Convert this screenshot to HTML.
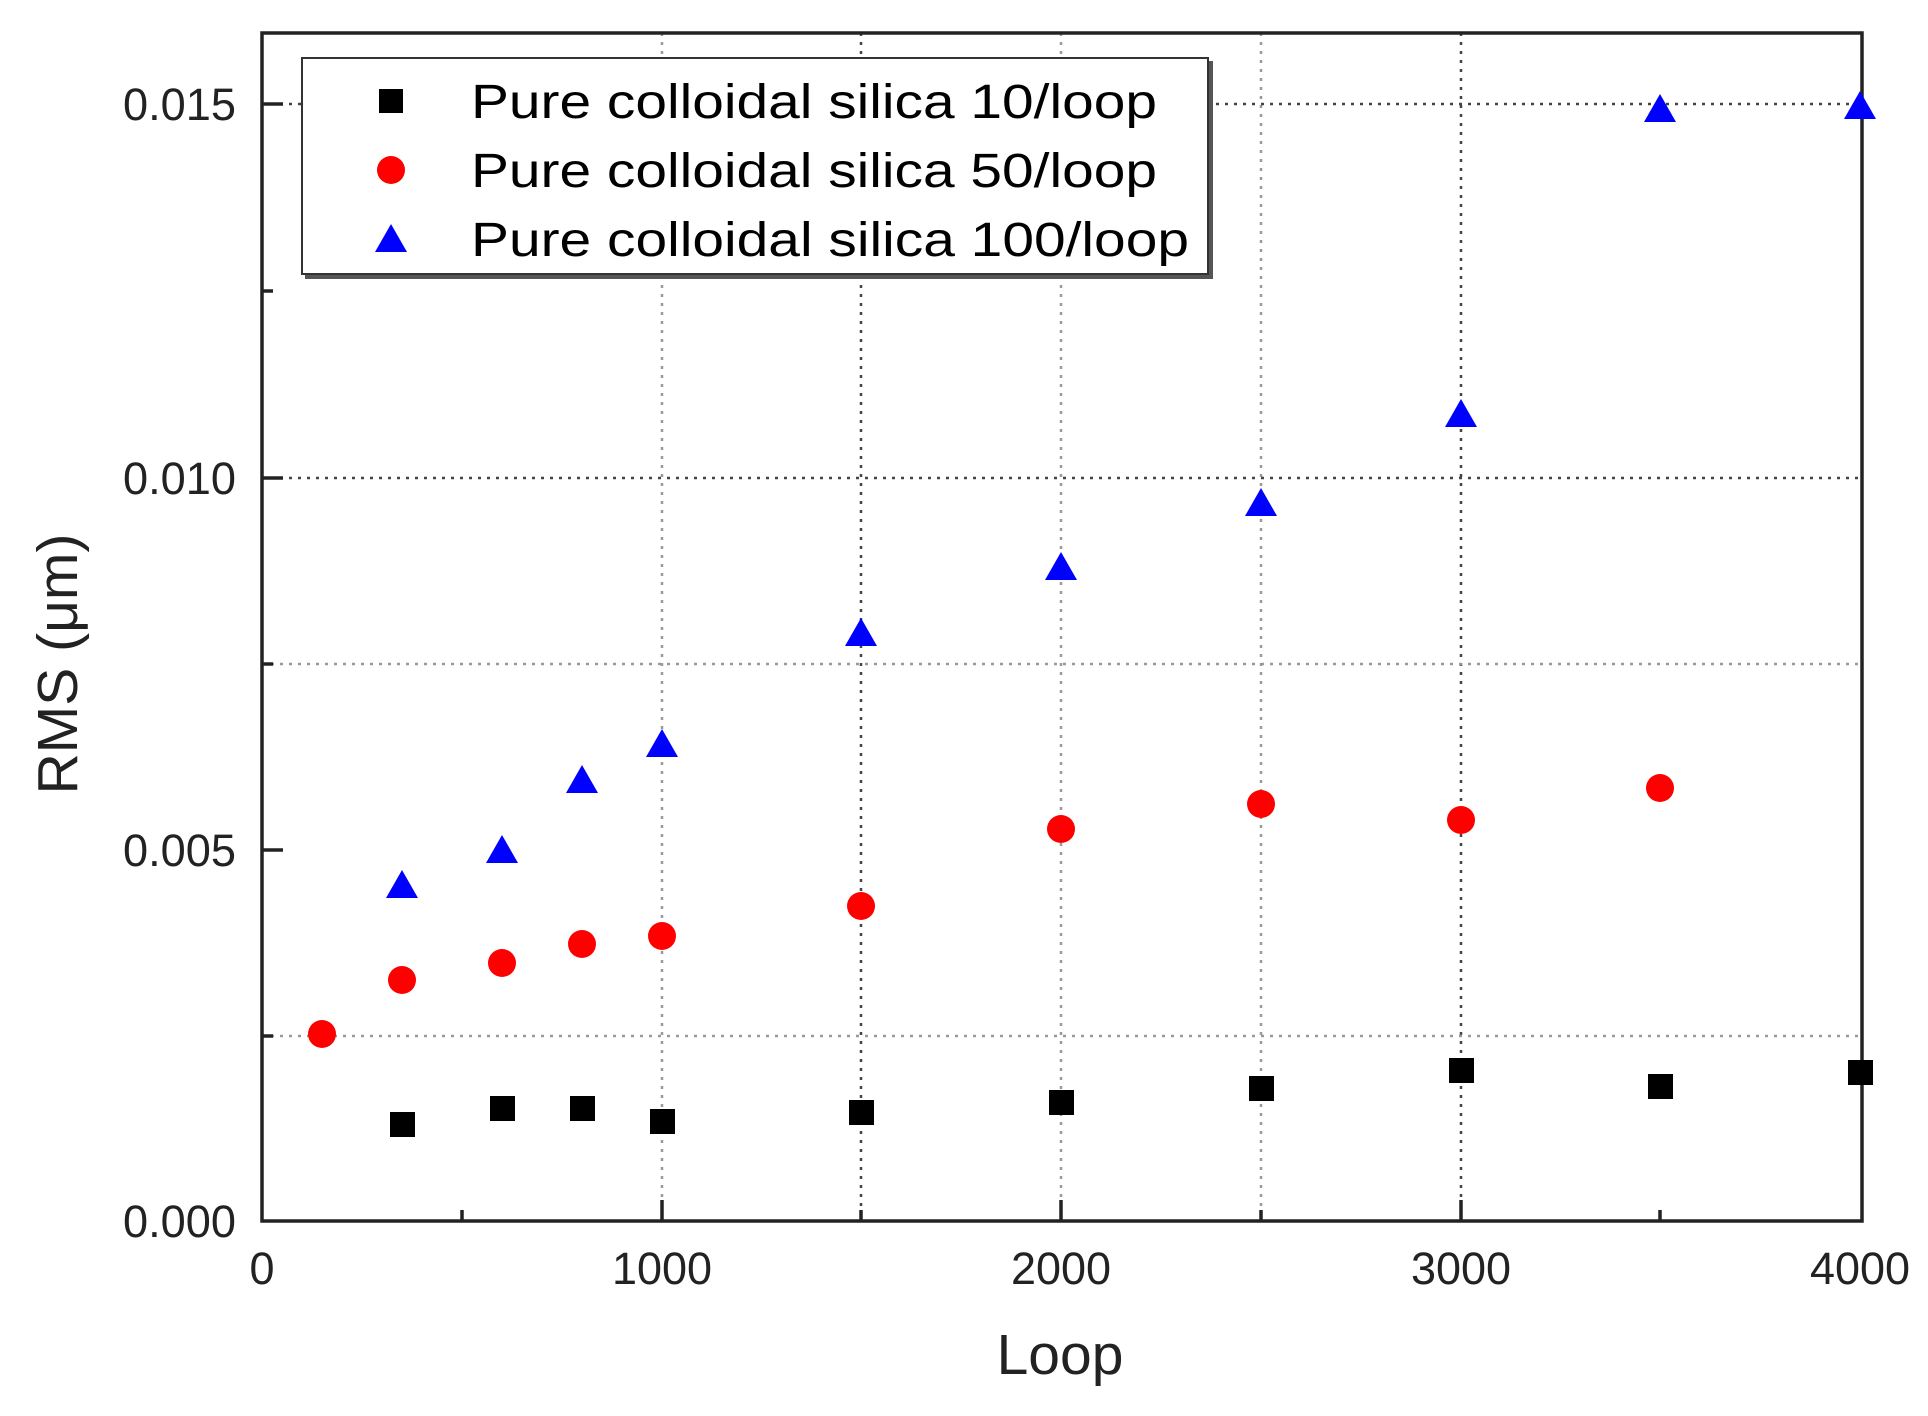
<!DOCTYPE html>
<html><head><meta charset="utf-8"><style>html,body{margin:0;padding:0;background:#fff}svg{display:block}</style></head>
<body>
<svg width="1928" height="1416" viewBox="0 0 1928 1416" xmlns="http://www.w3.org/2000/svg" font-family="Liberation Sans, Arial, sans-serif">
<rect width="1928" height="1416" fill="#fff"/>
<!-- grid -->
<g stroke-width="2.5" stroke-dasharray="3,6" fill="none">
<line x1="662" y1="33" x2="662" y2="1221" stroke="#999"/>
<line x1="861" y1="33" x2="861" y2="1221" stroke="#444"/>
<line x1="1061" y1="33" x2="1061" y2="1221" stroke="#999"/>
<line x1="1261" y1="33" x2="1261" y2="1221" stroke="#999"/>
<line x1="1461" y1="33" x2="1461" y2="1221" stroke="#444"/>
<line x1="262" y1="104" x2="1862" y2="104" stroke="#444"/>
<line x1="262" y1="478" x2="1862" y2="478" stroke="#444"/>
<line x1="262" y1="664" x2="1862" y2="664" stroke="#999"/>
<line x1="262" y1="1036" x2="1862" y2="1036" stroke="#999"/>
</g>
<!-- axes frame -->
<rect x="262" y="33" width="1600" height="1188" fill="none" stroke="#222" stroke-width="3.5"/>
<g stroke="#222" stroke-width="3.5">
<line x1="662" y1="1221" x2="662" y2="1200"/><line x1="1061" y1="1221" x2="1061" y2="1200"/><line x1="1461" y1="1221" x2="1461" y2="1200"/>
<line x1="462" y1="1221" x2="462" y2="1210"/><line x1="861" y1="1221" x2="861" y2="1210"/><line x1="1261" y1="1221" x2="1261" y2="1210"/><line x1="1660" y1="1221" x2="1660" y2="1210"/>
<line x1="262" y1="104" x2="283" y2="104"/><line x1="262" y1="478" x2="283" y2="478"/><line x1="262" y1="850" x2="283" y2="850"/>
<line x1="262" y1="291" x2="273" y2="291"/><line x1="262" y1="664" x2="273" y2="664"/><line x1="262" y1="1036" x2="273" y2="1036"/>
</g>
<!-- tick labels -->
<g font-size="45" fill="#222">
<text x="123" y="120" textLength="113" lengthAdjust="spacingAndGlyphs">0.015</text>
<text x="123" y="494" textLength="113" lengthAdjust="spacingAndGlyphs">0.010</text>
<text x="123" y="866" textLength="113" lengthAdjust="spacingAndGlyphs">0.005</text>
<text x="123" y="1237" textLength="113" lengthAdjust="spacingAndGlyphs">0.000</text>
</g>
<g font-size="45" fill="#222" text-anchor="middle">
<text x="262" y="1284">0</text>
<text x="662" y="1284">1000</text>
<text x="1061" y="1284">2000</text>
<text x="1461" y="1284">3000</text>
<text x="1860" y="1284">4000</text>
</g>
<text x="1060" y="1374" font-size="57" fill="#222" text-anchor="middle">Loop</text>
<text transform="translate(77,664) rotate(-90)" font-size="57" fill="#222" text-anchor="middle">RMS (μm)</text>
<!-- data squares -->
<g fill="#000">
<rect x="390" y="1112" width="25" height="25"/>
<rect x="490" y="1096" width="25" height="25"/>
<rect x="570" y="1096" width="25" height="25"/>
<rect x="650" y="1109" width="25" height="25"/>
<rect x="849" y="1100" width="25" height="25"/>
<rect x="1049" y="1090" width="25" height="25"/>
<rect x="1249" y="1076" width="25" height="25"/>
<rect x="1449" y="1058" width="25" height="25"/>
<rect x="1648" y="1074" width="25" height="25"/>
<rect x="1848" y="1060" width="25" height="25"/>
</g>
<g fill="#f00">
<circle cx="322" cy="1034" r="14"/><circle cx="402" cy="980" r="14"/><circle cx="502" cy="963" r="14"/>
<circle cx="582" cy="944" r="14"/><circle cx="662" cy="936" r="14"/><circle cx="861" cy="906" r="14"/>
<circle cx="1061" cy="829" r="14"/><circle cx="1261" cy="804" r="14"/><circle cx="1461" cy="820" r="14"/>
<circle cx="1660" cy="788" r="14"/>
</g>
<g fill="#00f">
<polygon points="402,870 386,898 418,898"/>
<polygon points="502,835 486,863 518,863"/>
<polygon points="582,765 566,793 598,793"/>
<polygon points="662,729 646,757 678,757"/>
<polygon points="861,618 845,646 877,646"/>
<polygon points="1061,552 1045,580 1077,580"/>
<polygon points="1261,488 1245,516 1277,516"/>
<polygon points="1461,399 1445,427 1477,427"/>
<polygon points="1660,94 1644,122 1676,122"/>
<polygon points="1860,91 1844,119 1876,119"/>
</g>
<!-- legend -->
<rect x="305" y="61" width="908" height="218" fill="#555"/>
<rect x="302" y="58" width="906" height="216" fill="#fff" stroke="#333" stroke-width="2"/>
<rect x="379" y="89" width="24" height="24" fill="#000"/>
<circle cx="391" cy="170" r="14" fill="#f00"/>
<polygon points="391,224 375,252 407,252" fill="#00f"/>
<g font-size="48" fill="#000">
<text x="471" y="118" textLength="686" lengthAdjust="spacingAndGlyphs">Pure colloidal silica 10/loop</text>
<text x="471" y="187" textLength="686" lengthAdjust="spacingAndGlyphs">Pure colloidal silica 50/loop</text>
<text x="471" y="256" textLength="718" lengthAdjust="spacingAndGlyphs">Pure colloidal silica 100/loop</text>
</g>
</svg>
</body></html>
